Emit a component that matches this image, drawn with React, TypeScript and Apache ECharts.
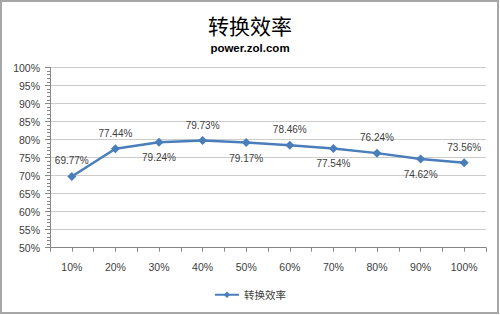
import React, { useEffect, useRef } from "react";
import * as echarts from "echarts";

const categories = ["10%", "20%", "30%", "40%", "50%", "60%", "70%", "80%", "90%", "100%"];
const efficiency = [69.77, 77.44, 79.24, 79.73, 79.17, 78.46, 77.54, 76.24, 74.62, 73.56];
const labelAbove = [true, true, false, true, false, true, false, true, false, true];
const seriesName = "转换效率";
const titleText = "转换效率";
const subtitleText = "power.zol.com";

export default function App() {
  const ref = useRef<HTMLDivElement>(null);
  useEffect(() => {
    const chart = echarts.init(ref.current!, null, { renderer: "svg" });
    const font = "'Liberation Sans', Arial, sans-serif";
    chart.setOption({
      animation: false,
      backgroundColor: "#ffffff",
      title: {
        text: titleText,
        subtext: subtitleText,
        left: "center",
        top: 9,
        itemGap: 7,
        textStyle: { fontFamily: "'Noto Sans CJK SC', sans-serif", fontSize: 21, fontWeight: "normal", color: "#000000" },
        subtextStyle: { fontFamily: font, fontSize: 11.5, fontWeight: "bold", color: "#000000" },
      },
      graphic: [
        {
          type: "rect",
          shape: { x: 1, y: 1, width: 497, height: 312 },
          style: { fill: "none", stroke: "#a6a6a6", lineWidth: 2 },
          silent: true,
        },
      ],
      legend: {
        bottom: 10,
        left: "center",
        data: [seriesName],
        itemWidth: 24,
        itemHeight: 8,
        itemGap: 4,
        textStyle: { fontFamily: "'Noto Sans CJK SC', sans-serif", fontSize: 10.5, color: "#404040" },
      },
      grid: { left: 50, right: 14, top: 67.5, bottom: 67.3 },
      xAxis: [
        {
          type: "category",
          data: categories,
          boundaryGap: true,
          axisLine: { lineStyle: { color: "#868686" } },
          axisTick: { show: true, length: 4, lineStyle: { color: "#868686" } },
          axisLabel: { fontFamily: font, fontSize: 10.5, color: "#404040", margin: 14 },
        },
        {
          type: "category",
          data: categories,
          boundaryGap: true,
          position: "bottom",
          axisLine: { show: false },
          axisTick: { show: true, alignWithLabel: true, length: 4, lineStyle: { color: "#868686" } },
          axisLabel: { show: false },
        },
      ],
      yAxis: {
        type: "value",
        min: 50,
        max: 100,
        interval: 5,
        axisLine: { show: true, lineStyle: { color: "#868686" } },
        axisTick: { show: true, length: 5, lineStyle: { color: "#868686" } },
        minorTick: { show: true, splitNumber: 5, length: 3, lineStyle: { color: "#868686" } },
        splitLine: { lineStyle: { color: "#cccccc" } },
        axisLabel: { formatter: "{value}%", fontFamily: font, fontSize: 10.5, color: "#404040", margin: 10 },
      },
      series: [
        {
          name: seriesName,
          type: "line",
          data: efficiency.map((v, i) => ({
            value: v,
            label: {
              position: labelAbove[i] ? "top" : "bottom",
              distance: 6,
            },
          })),
          symbol: "diamond",
          symbolSize: 9,
          color: "#4a7ebb",
          lineStyle: { width: 2.5, color: "#4a7ebb" },
          itemStyle: { color: "#4a7ebb" },
          label: {
            show: true,
            formatter: (p: any) => p.value.toFixed(2) + "%",
            fontFamily: font,
            fontSize: 10,
            color: "#404040",
          },
        },
      ],
    });
    return () => chart.dispose();
  }, []);
  return <div ref={ref} style={{ position: "fixed", left: 0, top: 0, width: 500, height: 315 }} />;
}
